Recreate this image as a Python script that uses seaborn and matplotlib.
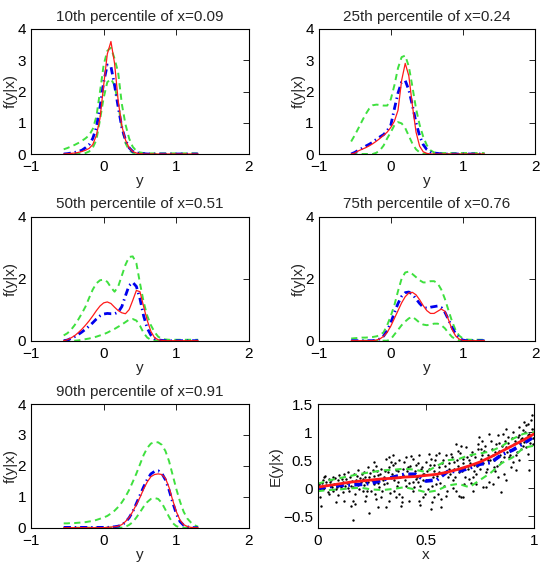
import matplotlib
matplotlib.use("Agg")
import matplotlib.pyplot as plt
import seaborn as sns

sns.set_style("white")
plt.rcParams['font.family'] = ['Liberation Sans', 'DejaVu Sans']
plt.rcParams['axes.unicode_minus'] = True

# ---------------- data ----------------
Y_GRID = [-0.55, -0.5, -0.45, -0.4, -0.35, -0.3, -0.25, -0.2, -0.15, -0.1, -0.05, 0.0,
          0.05, 0.1, 0.15, 0.2, 0.25, 0.3, 0.35, 0.4, 0.45, 0.5, 0.55, 0.6, 0.65, 0.7,
          0.75, 0.8, 0.85, 0.9, 0.95, 1.0, 1.05, 1.1, 1.15, 1.2, 1.25, 1.3]

titles = ["10th percentile of x=0.09", "25th percentile of x=0.24",
          "50th percentile of x=0.51", "75th percentile of x=0.76",
          "90th percentile of x=0.91"]

# panel 1 (x=0.09)
true1 = [0, 0.01, 0.02, 0.03, 0.05, 0.08, 0.12, 0.18, 0.3, 0.6, 1.15, 2.2, 3.2, 3.6, 2.9, 1.7,
         0.9, 0.45, 0.2, 0.08, 0.03, 0.01] + [0] * 16
est1 = [0, 0.01, 0.03, 0.05, 0.08, 0.12, 0.2, 0.3, 0.5, 0.85, 1.5, 2.3, 2.85, 2.8, 2.2, 1.5,
        0.85, 0.45, 0.2, 0.08, 0.04, 0.02, 0.01] + [0] * 15
upper1 = [0.15, 0.19, 0.24, 0.29, 0.35, 0.42, 0.5, 0.6, 0.8, 1.2, 2.0, 2.85, 3.3, 3.4, 3.05, 2.6,
          1.6, 0.95, 0.5, 0.23, 0.1, 0.05, 0.03] + [0.02] * 15
lower1 = [0, 0, 0, 0, 0, 0.01, 0.03, 0.08, 0.2, 0.45, 1.1, 1.8, 2.3, 2.4, 2.2, 1.6, 0.85, 0.35,
          0.12, 0.04, 0.01] + [0] * 17

# panel 2 (x=0.24)
true2 = [0, 0.03, 0.1, 0.15, 0.2, 0.26, 0.33, 0.41, 0.5, 0.6, 0.7, 0.85, 1.05, 1.4, 2.35, 2.9,
         2.5, 1.55, 0.7, 0.25, 0.07, 0.02] + [0] * 16
est2 = [0, 0.05, 0.12, 0.18, 0.25, 0.31, 0.38, 0.47, 0.55, 0.62, 0.75, 0.92, 1.45, 1.95, 2.3,
        2.35, 2.05, 1.55, 1.0, 0.58, 0.3, 0.14, 0.06, 0.03, 0.02] + [0] * 13
upper2 = [0.4, 0.6, 0.82, 1.05, 1.27, 1.45, 1.56, 1.58, 1.57, 1.55, 1.55, 1.75, 2.2, 2.75, 3.1,
          3.15, 2.8, 2.15, 1.45, 0.93, 0.55, 0.28, 0.12, 0.05] + [0.03] * 14
lower2 = [0, 0, 0, 0, 0, 0, 0, 0.04, 0.12, 0.27, 0.5, 0.7, 0.92, 1.02, 0.98, 0.83, 0.58, 0.33,
          0.15, 0.05, 0.01] + [0] * 17

# panel 3 (x=0.51)
true3 = [0, 0.03, 0.09, 0.16, 0.26, 0.37, 0.5, 0.64, 0.8, 0.97, 1.12, 1.22, 1.25, 1.2, 1.08,
         0.97, 0.9, 0.87, 1.0, 1.3, 1.62, 1.58, 1.1, 0.65, 0.3, 0.1, 0.03, 0.01] + [0] * 10
est3 = [0, 0.02, 0.07, 0.13, 0.2, 0.28, 0.37, 0.47, 0.58, 0.7, 0.8, 0.86, 0.88, 0.87, 0.87,
        0.92, 1.1, 1.45, 1.78, 1.88, 1.75, 1.35, 0.8, 0.4, 0.18, 0.07, 0.03, 0.01] + [0] * 10
upper3 = [0.17, 0.24, 0.35, 0.5, 0.68, 0.88, 1.1, 1.38, 1.65, 1.85, 1.95, 1.97, 1.9, 1.72, 1.58,
          1.75, 2.1, 2.45, 2.7, 2.72, 2.5, 1.85, 1.25, 0.8, 0.5, 0.28, 0.13, 0.06, 0.04] + [0.03] * 9
lower3 = [0, 0, 0, 0, 0.01, 0.03, 0.05, 0.07, 0.1, 0.13, 0.17, 0.21, 0.26, 0.32, 0.38, 0.45,
          0.52, 0.6, 0.68, 0.7, 0.65, 0.48, 0.25, 0.1, 0.03, 0.01] + [0] * 12

# panel 4 (x=0.76)
true4 = [0] * 7 + [0.02, 0.06, 0.14, 0.27, 0.47, 0.72, 0.97, 1.22, 1.42, 1.54, 1.56, 1.48, 1.32,
                   1.13, 0.97, 0.88, 0.88, 0.95, 1.02, 0.95, 0.68, 0.36, 0.15, 0.05, 0.01] + [0] * 6
est4 = [0] * 7 + [0.02, 0.06, 0.15, 0.32, 0.58, 0.9, 1.2, 1.43, 1.55, 1.57, 1.5, 1.35, 1.2, 1.08,
                  1.05, 1.08, 1.1, 1.12, 1.07, 0.92, 0.68, 0.42, 0.22, 0.08, 0.02] + [0] * 6
upper4 = [0.07, 0.08, 0.09, 0.1, 0.1, 0.11, 0.12, 0.14, 0.18, 0.27, 0.5, 0.8, 1.15, 1.6, 2.0, 2.2,
          2.23, 2.15, 2.05, 1.95, 1.88, 1.88, 1.92, 1.92, 1.85, 1.65, 1.35, 0.98, 0.62, 0.33,
          0.16, 0.07, 0.04] + [0.03] * 5
lower4 = [0] * 11 + [0.05, 0.2, 0.35, 0.5, 0.62, 0.72, 0.77, 0.68, 0.58, 0.52, 0.5, 0.52, 0.55,
                     0.55, 0.5, 0.4, 0.25, 0.12, 0.05, 0.01] + [0] * 7

# panel 5 (x=0.91)
true5 = [0] * 12 + [0.01, 0.02, 0.03, 0.05, 0.1, 0.2, 0.33, 0.52, 0.75, 0.98, 1.25, 1.48, 1.65,
                    1.72, 1.74, 1.72, 1.6, 1.3, 0.89, 0.52, 0.25, 0.1, 0.04, 0.01, 0, 0]
est5 = [0.01] * 12 + [0.01, 0.02, 0.03, 0.05, 0.09, 0.18, 0.32, 0.52, 0.78, 1.05, 1.32, 1.56,
                      1.74, 1.82, 1.84, 1.76, 1.55, 1.22, 0.82, 0.45, 0.2, 0.08, 0.03, 0.01, 0, 0]
upper5 = [0.14, 0.14, 0.15, 0.15, 0.16, 0.17, 0.18, 0.2, 0.22, 0.25, 0.29, 0.33, 0.38, 0.46, 0.55,
          0.67, 0.82, 1.0, 1.22, 1.48, 1.75, 2.05, 2.35, 2.58, 2.72, 2.77, 2.76, 2.68, 2.48, 2.15,
          1.7, 1.25, 0.85, 0.52, 0.3, 0.17, 0.08, 0.03]
lower5 = [0] * 17 + [0.03, 0.09, 0.18, 0.33, 0.5, 0.68, 0.83, 0.93, 0.96, 0.93, 0.8, 0.58, 0.35,
                     0.15, 0.05, 0.01] + [0] * 5

true_list = [true1, true2, true3, true4, true5]
est_list = [est1, est2, est3, est4, est5]
upper_list = [upper1, upper2, upper3, upper4, upper5]
lower_list = [lower1, lower2, lower3, lower4, lower5]

# panel 6: regression
X_GRID = [0.0, 0.05, 0.1, 0.15, 0.2, 0.25, 0.3, 0.35, 0.4, 0.45, 0.5, 0.55, 0.6, 0.65, 0.7,
          0.75, 0.8, 0.85, 0.9, 0.95, 1.0]
mean_true = [0.02, 0.05, 0.08, 0.11, 0.13, 0.15, 0.17, 0.18, 0.2, 0.21, 0.23, 0.25, 0.29, 0.34,
             0.4, 0.47, 0.56, 0.66, 0.76, 0.86, 0.97]
mean_est = [0.0, 0.03, 0.05, 0.06, 0.07, 0.09, 0.15, 0.2, 0.25, 0.25, 0.13, 0.15, 0.3, 0.3, 0.36,
            0.43, 0.46, 0.6, 0.68, 0.8, 0.92]
mean_upper = [0.08, 0.14, 0.18, 0.22, 0.26, 0.29, 0.32, 0.33, 0.35, 0.33, 0.29, 0.4, 0.5, 0.52,
              0.59, 0.62, 0.66, 0.75, 0.88, 0.97, 1.0]
mean_lower = [-0.05, -0.03, -0.02, 0.0, 0.01, -0.02, -0.03, -0.01, 0.02, -0.02, -0.07, -0.04,
              0.05, 0.08, 0.02, 0.15, 0.28, 0.45, 0.55, 0.72, 0.76]

obs_x_a = [0.015, 0.023, 0.038, 0.054, 0.062, 0.077, 0.085, 0.092, 0.108, 0.123, 0.131, 0.138,
           0.146, 0.146, 0.023, 0.046, 0.069, 0.1, 0.008, 0.115, 0.031, 0.085,
           0.154, 0.162, 0.169, 0.177, 0.185, 0.192, 0.208, 0.215, 0.223, 0.223, 0.231, 0.238,
           0.246, 0.254, 0.262, 0.269, 0.277, 0.285, 0.292, 0.3, 0.238, 0.165, 0.2, 0.262, 0.277,
           0.292, 0.208,
           0.308, 0.315, 0.323, 0.331, 0.338, 0.346, 0.354, 0.362, 0.369, 0.377, 0.385, 0.392,
           0.4, 0.408, 0.415, 0.423, 0.431, 0.438, 0.446, 0.454, 0.315, 0.346, 0.377, 0.408,
           0.362, 0.438, 0.454, 0.338,
           0.462, 0.469, 0.477, 0.485, 0.492, 0.5, 0.508, 0.515, 0.523, 0.531, 0.538, 0.546,
           0.554, 0.562, 0.569, 0.577, 0.585, 0.592, 0.6, 0.608, 0.515, 0.546, 0.569, 0.485,
           0.523, 0.592, 0.469, 0.538,
           0.615, 0.623, 0.631, 0.638, 0.646, 0.654, 0.662, 0.669, 0.677, 0.685, 0.692, 0.7,
           0.708, 0.715, 0.723, 0.731, 0.738, 0.746, 0.754, 0.762, 0.638, 0.669, 0.7, 0.731,
           0.754, 0.654, 0.715,
           0.769, 0.777, 0.785, 0.792, 0.8, 0.808, 0.815, 0.823, 0.831, 0.838, 0.846, 0.854,
           0.862, 0.869, 0.877, 0.885, 0.892, 0.9, 0.908, 0.915, 0.777, 0.808, 0.846, 0.869,
           0.9, 0.831, 0.792,
           0.923, 0.931, 0.938, 0.946, 0.954, 0.962, 0.969, 0.977, 0.985, 0.989, 0.992, 0.938,
           0.962, 0.977, 0.915, 1.0, 0.954]
obs_y_a = [-0.31, 0.14, 0.11, 0.17, 0.05, 0.08, -0.25, 0.14, 0.02, -0.22, 0.17, 0.29,
           0.11, -0.04, -0.01, -0.07, 0.2, 0.23, 0.08, 0.11, 0.2, -0.01,
           0.05, -0.22, 0.26, 0.14, 0.32, -0.01, 0.17, 0.29, 0.11, -0.13, 0.38, 0.2,
           -0.04, 0.32, 0.08, -0.19, 0.23, 0.02, 0.35, 0.14, -0.43, -0.57, 0.11, 0.47, -0.34,
           -0.16, -0.04,
           0.08, 0.53, 0.29, -0.22, 0.2, 0.41, -0.04, 0.32, 0.11, 0.5, -0.31, 0.23,
           0.47, 0.05, 0.38, -0.22, 0.23, 0.53, 0.02, 0.41, -0.34, 0.59, -0.1, 0.56,
           -0.16, 0.11, 0.17, 0.47,
           0.11, 0.59, 0.35, -0.16, 0.26, 0.47, -0.01, 0.61, -0.37, 0.2, 0.41, 0.59,
           -0.1, 0.29, -0.19, 0.5, 0.05, 0.59, 0.2, 0.35, 0.35, 0.08, -0.34, 0.14,
           0.53, -0.13, -0.22, -0.16,
           0.61, 0.14, 0.47, -0.04, 0.67, 0.29, -0.16, 0.53, 0.08, 0.73, 0.35, 0.17,
           0.59, -0.04, 0.41, 0.26, 0.79, 0.91, 0.53, 0.02, 0.79, -0.16, 0.5, 0.08,
           0.7, -0.13, 0.2,
           0.67, 0.29, 0.5, 0.11, 0.85, 0.59, 0.38, 0.79, 0.2, 0.67, 0.47, 0.97,
           0.26, 0.73, 0.91, 0.56, 0.38, 1.0, 0.79, 0.59, 0.02, 0.08, -0.07, 0.14,
           0.47, 0.94, 0.97,
           0.91, 1.09, 0.7, 1.03, 0.82, 1.12, 0.61, 0.97, 1.21, 1.3, 0.79, 0.88,
           0.73, 0.32, 0.32, 1.06, 1.18]
obs_x_b = [0.005, 0.012, 0.02, 0.03, 0.04, 0.05, 0.058, 0.066, 0.072, 0.08, 0.088, 0.095, 0.01,
           0.035, 0.06,
           0.105, 0.112, 0.118, 0.125, 0.133, 0.14, 0.15, 0.158, 0.165, 0.172, 0.18, 0.188,
           0.195, 0.12, 0.17, 0.155,
           0.205, 0.212, 0.218, 0.226, 0.234, 0.242, 0.25, 0.258, 0.265, 0.272, 0.28, 0.288,
           0.295, 0.22, 0.27,
           0.305, 0.312, 0.32, 0.328, 0.335, 0.342, 0.35, 0.358, 0.365, 0.372, 0.38, 0.388,
           0.395, 0.33, 0.39,
           0.405, 0.412, 0.42, 0.428, 0.435, 0.442, 0.45, 0.458, 0.465, 0.472, 0.48, 0.488,
           0.495, 0.43, 0.47,
           0.505, 0.512, 0.52, 0.528, 0.535, 0.542, 0.55, 0.558, 0.565, 0.572, 0.58, 0.588,
           0.595, 0.53, 0.56,
           0.605, 0.612, 0.62, 0.628, 0.635, 0.642, 0.65, 0.658, 0.665, 0.672, 0.68, 0.688,
           0.695, 0.625, 0.66,
           0.705, 0.712, 0.72, 0.728, 0.735, 0.742, 0.75, 0.758, 0.765, 0.772, 0.78, 0.788,
           0.795, 0.71, 0.76,
           0.805, 0.812, 0.82, 0.828, 0.835, 0.842, 0.85, 0.858, 0.865, 0.872, 0.88, 0.888,
           0.895, 0.82, 0.87,
           0.905, 0.912, 0.92, 0.928, 0.935, 0.942, 0.95, 0.958, 0.965, 0.972, 0.98, 0.988,
           0.995, 0.93, 0.97]
obs_y_b = [0.05, -0.02, 0.1, 0.0, 0.06, -0.1, 0.12, 0.02, -0.05, 0.18, 0.03, -0.12, -0.15,
           0.22, 0.15,
           0.08, 0.16, -0.06, 0.04, 0.1, 0.0, 0.2, 0.13, 0.03, -0.1, 0.22, 0.06, 0.18, 0.25,
           -0.27, -0.32,
           0.25, 0.06, 0.2, -0.05, 0.12, 0.28, 0.15, 0.22, -0.1, 0.3, 0.1, 0.25, -0.05, -0.22,
           0.4,
           0.2, 0.3, 0.1, 0.38, -0.08, 0.25, 0.15, 0.45, 0.05, 0.3, 0.2, -0.15, 0.35, 0.55,
           -0.25,
           0.15, 0.3, 0.1, 0.4, 0.25, -0.05, 0.3, 0.2, 0.45, 0.05, 0.38, 0.25, -0.1, 0.58,
           -0.3,
           0.3, 0.15, 0.42, 0.05, 0.3, 0.5, 0.22, 0.38, 0.1, 0.45, 0.28, 0.4, -0.05, -0.25,
           0.62,
           0.45, 0.25, 0.55, 0.35, 0.2, 0.5, 0.4, 0.62, 0.3, 0.45, 0.2, 0.55, 0.4, 0.0, 0.75,
           0.45, 0.65, 0.3, 0.55, 0.4, 0.7, 0.35, 0.6, 0.45, 0.75, 0.35, 0.6, 0.5, 0.1, 0.85,
           0.7, 0.5, 0.65, 0.4, 0.8, 0.6, 0.75, 0.55, 0.85, 0.65, 0.8, 0.6, 0.9, 0.3, 1.05,
           0.7, 0.85, 0.65, 0.95, 0.8, 0.9, 0.75, 1.0, 0.85, 0.95, 0.8, 1.05, 0.9, 0.5, 1.15]
obs_x = obs_x_a + obs_x_b
obs_y = obs_y_a + obs_y_b

dens_xticks = [-1, 0, 1, 2]
dens_xticklabels = ["\u22121", "0", "1", "2"]
dens_yticks = [[0, 1, 2, 3, 4], [0, 1, 2, 3, 4], [0, 2, 4], [0, 2, 4], [0, 1, 2, 3, 4]]
reg_xticks = [0, 0.5, 1]
reg_xticklabels = ["0", "0.5", "1"]
reg_yticks = [-0.5, 0, 0.5, 1, 1.5]
reg_yticklabels = ["\u22120.5", "0", "0.5", "1", "1.5"]

# ---------------- styling ----------------
RED = "#ff1a1a"
BLUE = "#0000ee"
GREEN = "#3fe03f"
FS = 11

W, H = 542, 569
fig = plt.figure(figsize=(W / 100, H / 100), dpi=100)
fig.patch.set_facecolor("white")


def rect(l, r, t, b):
    return [l / W, 1 - b / H, (r - l) / W, (b - t) / H]


boxes = [(31, 249, 29, 154), (318.7, 535, 29, 154),
         (31, 249, 216.7, 340.7), (318.7, 535, 216.7, 340.7),
         (31, 249, 404, 527.7), (317.7, 534.3, 404, 527.7)]


def style_axes(ax):
    for s in ax.spines.values():
        s.set_visible(True)
        s.set_color("black")
        s.set_linewidth(0.8)
    ax.tick_params(direction="in", top=True, right=True, length=4, width=0.6,
                   labelsize=FS, colors="black")
    ax.tick_params(axis="x", pad=4.5)
    ax.tick_params(axis="y", pad=3.5)
    ax.set_facecolor("white")


def line(ax, xs, ys, color, lw, dashes=None):
    sns.lineplot(x=xs, y=ys, ax=ax, color=color, linewidth=lw, estimator=None,
                 sort=False, legend=False)
    ln = ax.lines[-1]
    if dashes is not None:
        ln.set_dashes(dashes)
    return ln


for i in range(5):
    ax = fig.add_axes(rect(*boxes[i]))
    line(ax, Y_GRID, upper_list[i], GREEN, 1.4, [3.2, 2.2])
    line(ax, Y_GRID, lower_list[i], GREEN, 1.4, [3.2, 2.2])
    line(ax, Y_GRID, est_list[i], BLUE, 2.0, [2.6, 1.4, 0.5, 1.4])
    line(ax, Y_GRID, true_list[i], RED, 0.9)
    ax.set_xlim(-1, 2)
    ax.set_ylim(0, 4)
    ax.set_xticks(dens_xticks)
    ax.set_xticklabels(dens_xticklabels)
    ax.set_yticks(dens_yticks[i])
    ax.set_yticklabels([str(v) for v in dens_yticks[i]])
    ax.set_title(titles[i], fontsize=FS, pad=6)
    ax.set_xlabel("y", fontsize=FS, labelpad=0)
    ax.set_ylabel("f(y|x)", fontsize=FS, labelpad=0)
    style_axes(ax)

ax = fig.add_axes(rect(*boxes[5]))
sns.scatterplot(x=obs_x, y=obs_y, ax=ax, color="black", s=3, linewidth=0, marker="o",
                legend=False)
line(ax, X_GRID, mean_upper, GREEN, 1.5, [3.2, 2.2])
line(ax, X_GRID, mean_lower, GREEN, 1.5, [3.2, 2.2])
line(ax, X_GRID, mean_est, BLUE, 2.6, [2.2, 1.2, 0.5, 1.2])
line(ax, X_GRID, mean_true, RED, 2.0)
ax.set_xlim(0, 1)
ax.set_ylim(-0.7, 1.5)
ax.set_xticks(reg_xticks)
ax.set_xticklabels(reg_xticklabels)
ax.set_yticks(reg_yticks)
ax.set_yticklabels(reg_yticklabels)
ax.set_xlabel("x", fontsize=FS, labelpad=0)
ax.set_ylabel("E(y|x)", fontsize=FS, labelpad=0)
style_axes(ax)

fig.savefig("out.png", dpi=100, facecolor="white")
